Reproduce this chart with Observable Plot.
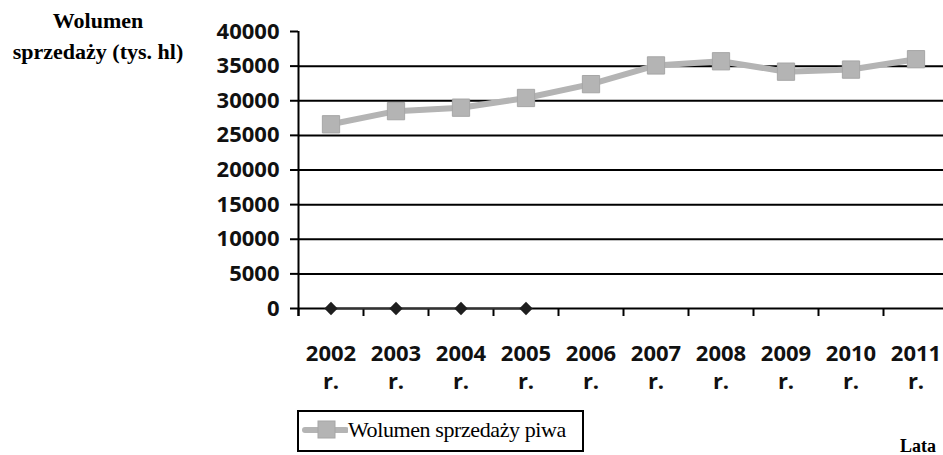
<!DOCTYPE html>
<html><head><meta charset="utf-8">
<script src="https://cdn.jsdelivr.net/npm/d3@7"></script>
<script src="https://cdn.jsdelivr.net/npm/@observablehq/plot@0.6"></script>
<style>
body{margin:0;background:#fff;}
#wrap{position:relative;width:943px;height:455px;overflow:hidden;}
.ser{font-family:"Liberation Serif","Times New Roman",serif;color:#000;position:absolute;}
</style></head><body>
<div id="wrap"></div>
<script>
const years = [2002,2003,2004,2005,2006,2007,2008,2009,2010,2011];
const sales = [26600,28500,29000,30400,32400,35100,35700,34200,34500,36000];
const zeroYears = [2002,2003,2004,2005];
const zeroValues = [0,0,0,0];
const yTicks = [0,5000,10000,15000,20000,25000,30000,35000,40000];
const gridValues = [0,5000,10000,15000,20000,25000,30000,35000];
const tickSuffix = "r.";
const yTitle = ["Wolumen","sprzedaży (tys. hl)"];
const xTitle = "Lata";
const legendLabel = "Wolumen sprzedaży piwa";

const data = years.map((y,i)=>({year:y, value:sales[i]}));
const zeros = zeroYears.map((y,i)=>({year:y, value:zeroValues[i]}));
const bounds = years.map(y=>y-0.5).concat([years[years.length-1]+0.5]);

const gray = "#b4b4b4";
const font = "'Open Sans', sans-serif";

const chart = Plot.plot({
  width: 943, height: 455,
  marginLeft: 298, marginTop: 31, marginBottom: 147, marginRight: 0,
  style: {background:"transparent", overflow:"visible"},
  x: {type:"linear", domain:[2001.5, 2011.5], range:[298, 948], axis:null, label:null},
  y: {domain:[0,40000], axis:null, label:null},
  marks: [
    Plot.ruleY(gridValues, {y:d=>d, stroke:"#000", strokeWidth:2, x1:2001.5, x2:2011.5}),
    Plot.axisY({ticks:yTicks, label:null, tickSize:8, tickPadding:11, stroke:"#000", strokeWidth:2, fontSize:22, fontWeight:"bold", fontFamily:font, tickFormat:d=>String(d), fill:"#111"}),
    Plot.ruleX([2001.5], {y1:40000, y2:0, stroke:"#000", strokeWidth:2, insetBottom:-8}),
    Plot.axisX({ticks:bounds, label:null, tickSize:8, tickFormat:()=>"", stroke:"#000", strokeWidth:2}),
    Plot.axisX({ticks:years, label:null, tickSize:0, tickPadding:33, fontSize:22, fontWeight:"bold", fontFamily:font, fill:"#111", lineHeight:1.27, tickFormat:d=>d+"\n"+tickSuffix}),
    Plot.line(zeros, {x:"year", y:"value", stroke:"#333", strokeWidth:2}),
    Plot.dot(zeros, {x:"year", y:"value", symbol:"diamond2", r:6, fill:"#1e1e1e", stroke:"none"}),
    Plot.line(data, {x:"year", y:"value", stroke:gray, strokeWidth:6}),
    Plot.dot(data, {x:"year", y:"value", symbol:"square2", r:11, fill:gray, stroke:"#a6a6a6", strokeWidth:1})
  ]
});
const wrap = document.getElementById("wrap");
wrap.appendChild(chart);
chart.style.position="absolute"; chart.style.left="0"; chart.style.top="0";

const t = document.createElement("div");
t.className="ser";
t.style.cssText += "left:0;top:5px;width:196px;text-align:center;font-weight:bold;font-size:22px;line-height:31px;white-space:nowrap;";
t.innerHTML = yTitle.join("<br>");
wrap.appendChild(t);

const l = document.createElement("div");
l.className="ser";
l.style.cssText += "left:900px;top:436px;font-weight:bold;font-size:18px;white-space:nowrap;";
l.textContent = xTitle;
wrap.appendChild(l);

const lg = document.createElement("div");
lg.className="ser";
lg.style.cssText += "left:297px;top:410px;width:283px;height:38px;border:2px solid #000;font-size:22px;letter-spacing:-0.4px;line-height:36px;white-space:nowrap;";
lg.innerHTML = '<svg width="47" height="22" style="vertical-align:-4px;margin-left:2px"><line x1="4" y1="11" x2="45" y2="11" stroke="'+gray+'" stroke-width="6" stroke-linecap="round"/><rect x="17" y="2" width="17" height="17" fill="'+gray+'" stroke="#a6a6a6"/></svg>';
const sp = document.createElement("span"); sp.textContent = legendLabel;
lg.appendChild(sp);
wrap.appendChild(lg);
</script>
</body></html>
